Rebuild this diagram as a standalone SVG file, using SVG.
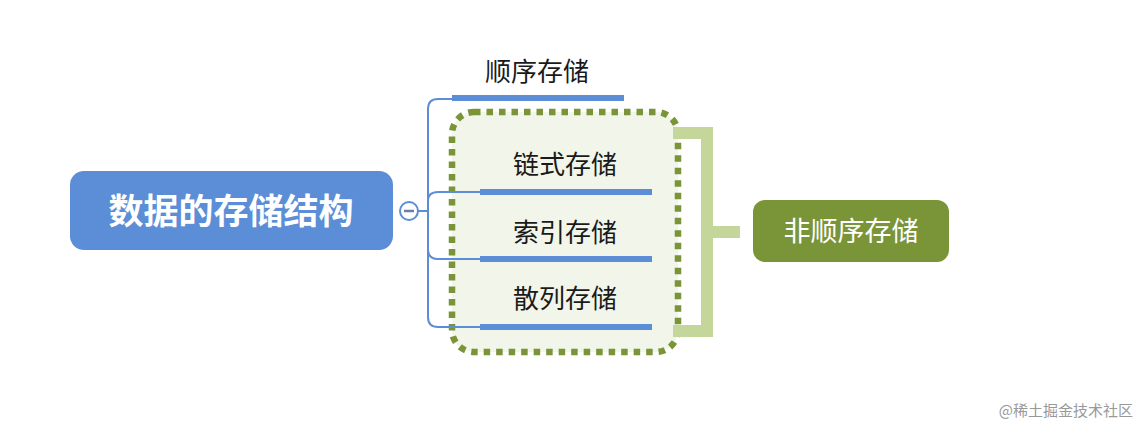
<svg xmlns="http://www.w3.org/2000/svg" width="1142" height="426" viewBox="0 0 1142 426">
<style>
.lbl{font-family:"Noto Sans CJK SC","Liberation Sans",sans-serif;font-size:26px;fill:#1a1a1a;text-anchor:middle}
.conn{fill:none;stroke:#5b8ed6;stroke-width:2}
.ul{fill:#5b8ed6}
</style>
<rect width="1142" height="426" fill="#ffffff"/>
<g id="group-box">
<rect x="452" y="112" width="226" height="240" rx="22" fill="#f1f5ea" stroke="#7a9438" stroke-width="6.5" stroke-dasharray="6.5 6"/>
</g>
<g id="connectors">
<path class="conn" d="M418 211 H428"/>
<path class="conn" d="M452 99 H438 Q428 99 428 109 V317 Q428 327 438 327 H480"/>
<path class="conn" d="M428 201 Q428 192 438 192 H480"/>
<path class="conn" d="M428 249 Q428 259 438 259 H480"/>
<path d="M673 133 H707 V331 H673 M707 232 H740" fill="none" stroke="#c5d69b" stroke-width="12"/>
</g>
<g id="root">
<rect x="70" y="171" width="323" height="79" rx="14" fill="#5b8ed6"/>
<text x="231" y="224" font-family="Noto Sans CJK SC,Liberation Sans,sans-serif" font-size="35" font-weight="bold" fill="#ffffff" text-anchor="middle">数据的存储结构</text>
<circle cx="409" cy="211" r="9" fill="#ffffff" stroke="#5b8ed6" stroke-width="2"/>
<path d="M404 211 H414" stroke="#6b7fa8" stroke-width="2.5"/>
</g>
<g id="n-seq">
<text class="lbl" x="537" y="81">顺序存储</text>
<rect class="ul" x="452" y="95" width="172" height="6"/>
</g>
<g id="n-link">
<text class="lbl" x="565" y="174">链式存储</text>
<rect class="ul" x="480" y="189" width="172" height="6"/>
</g>
<g id="n-index">
<text class="lbl" x="565" y="242">索引存储</text>
<rect class="ul" x="480" y="256" width="172" height="6"/>
</g>
<g id="n-hash">
<text class="lbl" x="565" y="308">散列存储</text>
<rect class="ul" x="480" y="324" width="172" height="6"/>
</g>
<g id="n-nonseq">
<rect x="753" y="200" width="196" height="62" rx="12" fill="#7a9438"/>
<text x="851" y="241" font-family="Noto Sans CJK SC,Liberation Sans,sans-serif" font-size="27" fill="#ffffff" text-anchor="middle">非顺序存储</text>
</g>
<text x="1133" y="416" font-family="Noto Sans CJK SC,Liberation Sans,sans-serif" font-size="15" fill="#999" text-anchor="end">@稀土掘金技术社区</text>
</svg>
